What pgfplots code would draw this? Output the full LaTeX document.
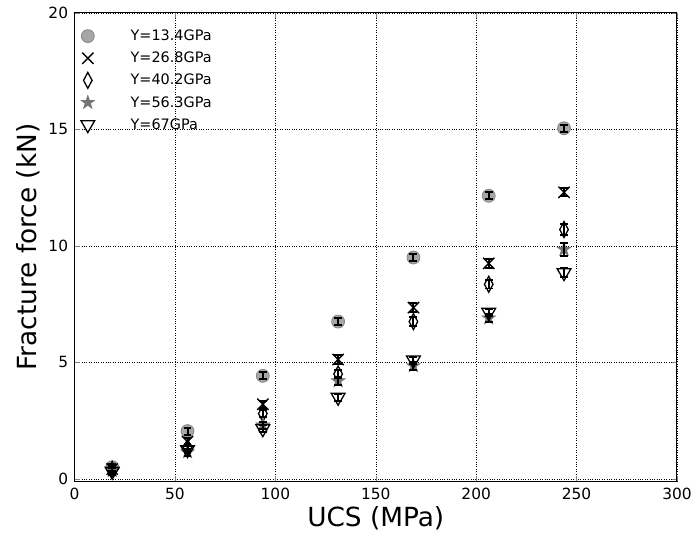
\documentclass[border=0pt]{standalone}
\usepackage{fontspec}
\setmainfont{DejaVu Sans}
\usepackage{pgfplots}
\usepackage{pgfplotstable}
\pgfplotsset{compat=1.18}

% filled five-pointed star
\pgfdeclareplotmark{fstar}{%
  \pgfpathmoveto{\pgfpointpolar{90}{\pgfplotmarksize}}%
  \pgfpathlineto{\pgfpointpolar{126}{0.382\pgfplotmarksize}}%
  \pgfpathlineto{\pgfpointpolar{162}{\pgfplotmarksize}}%
  \pgfpathlineto{\pgfpointpolar{198}{0.382\pgfplotmarksize}}%
  \pgfpathlineto{\pgfpointpolar{234}{\pgfplotmarksize}}%
  \pgfpathlineto{\pgfpointpolar{270}{0.382\pgfplotmarksize}}%
  \pgfpathlineto{\pgfpointpolar{306}{\pgfplotmarksize}}%
  \pgfpathlineto{\pgfpointpolar{342}{0.382\pgfplotmarksize}}%
  \pgfpathlineto{\pgfpointpolar{18}{\pgfplotmarksize}}%
  \pgfpathlineto{\pgfpointpolar{54}{0.382\pgfplotmarksize}}%
  \pgfpathclose
  \pgfusepathqfillstroke}

% UCS (MPa), fracture force (kN), error
\pgfplotstableread{
x y e
18.75 0.50 0.15
56.25 2.05 0.15
93.75 4.42 0.15
131.25 6.75 0.15
168.75 9.50 0.15
206.25 12.15 0.15
243.75 15.05 0.15
}\dA
\pgfplotstableread{
x y e
18.75 0.42 0.15
56.25 1.60 0.15
93.75 3.20 0.15
131.25 5.12 0.18
168.75 7.35 0.18
206.25 9.25 0.18
243.75 12.30 0.18
}\dB
\pgfplotstableread{
x y e
18.75 0.40 0.15
56.25 1.35 0.15
93.75 2.80 0.15
131.25 4.50 0.18
168.75 6.75 0.18
206.25 8.35 0.18
243.75 10.70 0.22
}\dC
\pgfplotstableread{
x y e
18.75 0.35 0.15
56.25 1.15 0.15
93.75 2.30 0.15
131.25 4.20 0.18
168.75 4.85 0.18
206.25 6.90 0.18
243.75 9.85 0.28
}\dD
\pgfplotstableread{
x y e
18.75 0.32 0.15
56.25 1.25 0.15
93.75 2.15 0.15
131.25 3.50 0.15
168.75 5.10 0.15
206.25 7.15 0.15
243.75 8.85 0.18
}\dE

\pgfplotsset{ebar/.style={forget plot, only marks, mark=*, mark size=0pt,
    error bars/y dir=both, error bars/y explicit,
    error bars/error mark=-,
    error bars/error bar style={black, line width=2pt},
    error bars/error mark options={rotate=90, draw=black, mark size=4pt, line width=2pt}}}

\begin{document}
\begin{tikzpicture}
\begin{axis}[
  name=ax,
  scale only axis,
  width=606pt, height=471pt,
  xmin=0, xmax=300, ymin=-0.1, ymax=20,
  clip mode=individual,
  xtick={0,50,...,300}, ytick={0,5,10,15,20},
  tick align=inside, tick pos=both,
  major tick length=5pt,
  axis line style={line width=1pt},
  grid=major,
  grid style={black, dotted, line width=0.5pt},
  /pgf/number format/assume math mode=true,
  ticklabel style={font=\fontsize{15.5}{18}\selectfont},
  yticklabel style={xshift=-3pt},
  xticklabel style={yshift=-3pt},
  label style={font=\fontsize{26.5}{30}\selectfont, inner sep=0pt},
  xlabel={UCS (MPa)},
  ylabel={Fracture force (kN)},
  xlabel style={at={(axis description cs:0.5,0)}, anchor=north, yshift=-25pt},
  ylabel style={at={(axis description cs:-0.0767,0.5)}, anchor=center},
  legend style={draw=none, fill=none, at={(axis description cs:0,1)}, anchor=north west,
    xshift=3pt, yshift=-13pt,
    font=\fontsize{14.5}{16}\selectfont, row sep=6pt, column sep=34pt},
  legend cell align=left,
]
\addplot[only marks, mark=*, mark size=6.5pt, mark options={draw=gray!95, fill=gray!70, line width=0.8pt}]
  table[x=x, y=y]{\dA};
\addlegendentry{Y=13.4GPa}
\addplot[only marks, mark=x, mark size=8pt, mark options={black, line width=1.4pt}]
  table[x=x, y=y]{\dB};
\addlegendentry{Y=26.8GPa}
\addplot[only marks, mark=diamond, mark size=8pt, mark options={black, fill=white, xscale=0.72, line width=1.3pt}]
  table[x=x, y=y]{\dC};
\addlegendentry{Y=40.2GPa}
\addplot[only marks, mark=fstar, mark size=7.5pt, mark options={draw=black!55, fill=black!55}]
  table[x=x, y=y]{\dD};
\addlegendentry{Y=56.3GPa}
\addplot[only marks, mark=triangle, mark size=8pt, mark options={black, fill=white, rotate=180, line width=1.3pt}]
  table[x=x, y=y]{\dE};
\addlegendentry{Y=67GPa}
% error bars on top of all marks
\addplot[ebar] table[x=x, y=y, y error=e]{\dA};
\addplot[ebar] table[x=x, y=y, y error=e]{\dB};
\addplot[ebar] table[x=x, y=y, y error=e]{\dC};
\addplot[ebar] table[x=x, y=y, y error=e]{\dD};
\addplot[ebar] table[x=x, y=y, y error=e]{\dE};
\end{axis}
\path (ax.south west) ++(-75pt,-57pt);
\path (ax.north east) ++(14pt,13pt);
\end{tikzpicture}
\end{document}
